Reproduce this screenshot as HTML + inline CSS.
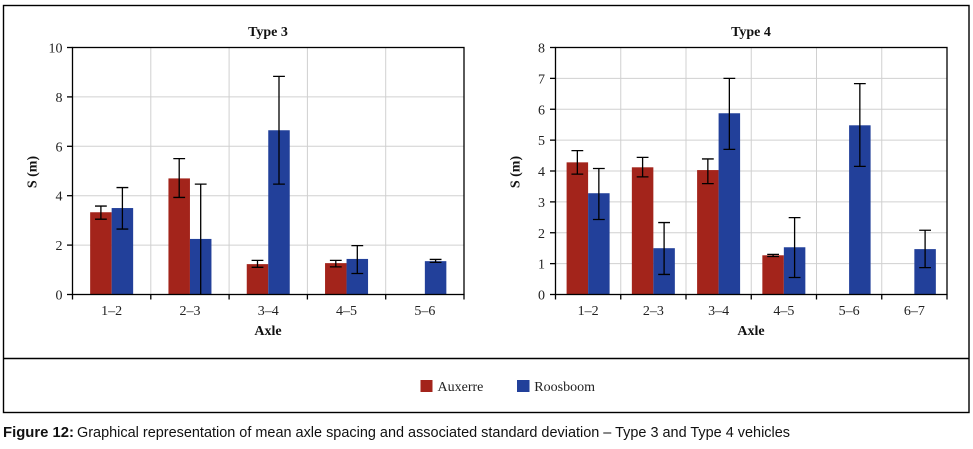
<!DOCTYPE html>
<html>
<head>
<meta charset="utf-8">
<style>
html,body{margin:0;padding:0;background:#fff;}
svg{display:block;}
.tk{font-family:"Liberation Serif",serif;font-size:14px;fill:#222;}
.bd{font-family:"Liberation Serif",serif;font-size:14px;font-weight:bold;fill:#111;}
.cap{font-family:"Liberation Sans",sans-serif;font-size:15px;fill:#111;}
</style>
</head>
<body>
<svg width="973" height="449" viewBox="0 0 973 449" xmlns="http://www.w3.org/2000/svg">
<rect x="0" y="0" width="973" height="449" fill="#fff"/>
<!-- outer box -->
<rect x="3.5" y="5.5" width="965.5" height="407" fill="none" stroke="#000" stroke-width="1.4"/>
<line x1="3.5" y1="358.5" x2="969" y2="358.5" stroke="#000" stroke-width="1.4"/>

<!-- ============ LEFT CHART ============ -->
<g stroke="#d0d0d0" stroke-width="1">
<line x1="72.5" y1="245.1" x2="464" y2="245.1"/>
<line x1="72.5" y1="195.7" x2="464" y2="195.7"/>
<line x1="72.5" y1="146.3" x2="464" y2="146.3"/>
<line x1="72.5" y1="96.9" x2="464" y2="96.9"/>
<line x1="150.8" y1="47.5" x2="150.8" y2="294.5"/>
<line x1="229.1" y1="47.5" x2="229.1" y2="294.5"/>
<line x1="307.4" y1="47.5" x2="307.4" y2="294.5"/>
<line x1="385.7" y1="47.5" x2="385.7" y2="294.5"/>
</g>
<g fill="#a3241b">
<rect x="90.15" y="212.25" width="21.5" height="82.25"/>
<rect x="168.45" y="178.41" width="21.5" height="116.09"/>
<rect x="246.75" y="264.12" width="21.5" height="30.38"/>
<rect x="325.05" y="263.13" width="21.5" height="31.37"/>
</g>
<g fill="#22409a">
<rect x="111.65" y="208.05" width="21.5" height="86.45"/>
<rect x="189.95" y="238.93" width="21.5" height="55.57"/>
<rect x="268.25" y="130.25" width="21.5" height="164.25"/>
<rect x="346.55" y="258.93" width="21.5" height="35.57"/>
<rect x="424.85" y="261.16" width="21.5" height="33.34"/>
</g>
<g stroke="#000" stroke-width="1.3" fill="none">
<path d="M100.9 219.17V206.07M95 219.17H106.8M95 206.07H106.8"/>
<path d="M122.4 229.05V187.55M116.5 229.05H128.3M116.5 187.55H128.3"/>
<path d="M179.2 197.43V158.65M173.3 197.43H185.1M173.3 158.65H185.1"/>
<path d="M200.7 294.5V184.09M194.8 184.09H206.6"/>
<path d="M257.5 267.33V260.41M251.6 267.33H263.4M251.6 260.41H263.4"/>
<path d="M279 184.09V76.4M273.1 184.09H284.9M273.1 76.4H284.9"/>
<path d="M335.8 266.84V260.41M329.9 266.84H341.7M329.9 260.41H341.7"/>
<path d="M357.3 273.5V245.59M351.4 273.5H363.2M351.4 245.59H363.2"/>
<path d="M435.6 262.39V259.43M429.7 262.39H441.5M429.7 259.43H441.5"/>
</g>
<rect x="72.5" y="47.5" width="391.5" height="247" fill="none" stroke="#000" stroke-width="1.3"/>
<g stroke="#000" stroke-width="1.3">
<line x1="67" y1="47.5" x2="72.5" y2="47.5"/>
<line x1="67" y1="96.9" x2="72.5" y2="96.9"/>
<line x1="67" y1="146.3" x2="72.5" y2="146.3"/>
<line x1="67" y1="195.7" x2="72.5" y2="195.7"/>
<line x1="67" y1="245.1" x2="72.5" y2="245.1"/>
<line x1="67" y1="294.5" x2="72.5" y2="294.5"/>
<line x1="72.5" y1="294.5" x2="72.5" y2="299.5"/>
<line x1="150.8" y1="294.5" x2="150.8" y2="299.5"/>
<line x1="229.1" y1="294.5" x2="229.1" y2="299.5"/>
<line x1="307.4" y1="294.5" x2="307.4" y2="299.5"/>
<line x1="385.7" y1="294.5" x2="385.7" y2="299.5"/>
<line x1="464" y1="294.5" x2="464" y2="299.5"/>
</g>
<g class="tk" text-anchor="end">
<text x="62.5" y="52.5">10</text>
<text x="62.5" y="101.9">8</text>
<text x="62.5" y="151.3">6</text>
<text x="62.5" y="200.7">4</text>
<text x="62.5" y="250.1">2</text>
<text x="62.5" y="299.5">0</text>
</g>
<g class="tk" text-anchor="middle">
<text x="111.65" y="315">1–2</text>
<text x="189.95" y="315">2–3</text>
<text x="268.25" y="315">3–4</text>
<text x="346.55" y="315">4–5</text>
<text x="424.85" y="315">5–6</text>
</g>
<text class="bd" x="268" y="36" text-anchor="middle">Type 3</text>
<text class="bd" x="268" y="335" text-anchor="middle">Axle</text>
<text class="bd" x="0" y="0" text-anchor="middle" transform="translate(36.5,172) rotate(-90)">S (m)</text>

<!-- ============ RIGHT CHART ============ -->
<g stroke="#d0d0d0" stroke-width="1">
<line x1="555.5" y1="263.63" x2="947" y2="263.63"/>
<line x1="555.5" y1="232.75" x2="947" y2="232.75"/>
<line x1="555.5" y1="201.88" x2="947" y2="201.88"/>
<line x1="555.5" y1="171" x2="947" y2="171"/>
<line x1="555.5" y1="140.13" x2="947" y2="140.13"/>
<line x1="555.5" y1="109.25" x2="947" y2="109.25"/>
<line x1="555.5" y1="78.38" x2="947" y2="78.38"/>
<line x1="620.75" y1="47.5" x2="620.75" y2="294.5"/>
<line x1="686" y1="47.5" x2="686" y2="294.5"/>
<line x1="751.25" y1="47.5" x2="751.25" y2="294.5"/>
<line x1="816.5" y1="47.5" x2="816.5" y2="294.5"/>
<line x1="881.75" y1="47.5" x2="881.75" y2="294.5"/>
</g>
<g fill="#a3241b">
<rect x="566.6" y="162.35" width="21.5" height="132.15"/>
<rect x="631.85" y="167.3" width="21.5" height="127.2"/>
<rect x="697.1" y="170.07" width="21.5" height="124.43"/>
<rect x="762.35" y="255.29" width="21.5" height="39.21"/>
</g>
<g fill="#22409a">
<rect x="588.1" y="193.23" width="21.5" height="101.27"/>
<rect x="653.35" y="248.19" width="21.5" height="46.31"/>
<rect x="718.6" y="113.26" width="21.5" height="181.24"/>
<rect x="783.85" y="247.26" width="21.5" height="47.24"/>
<rect x="849.1" y="125.3" width="21.5" height="169.2"/>
<rect x="914.35" y="249.11" width="21.5" height="45.39"/>
</g>
<g stroke="#000" stroke-width="1.3" fill="none">
<path d="M577.35 174.09V150.62M571.45 174.09H583.25M571.45 150.62H583.25"/>
<path d="M598.85 219.47V168.53M592.95 219.47H604.75M592.95 168.53H604.75"/>
<path d="M642.6 176.87V157.41M636.7 176.87H648.5M636.7 157.41H648.5"/>
<path d="M664.1 274.43V222.56M658.2 274.43H670M658.2 222.56H670"/>
<path d="M707.85 183.66V158.96M701.95 183.66H713.75M701.95 158.96H713.75"/>
<path d="M729.35 149.39V78.38M723.45 149.39H735.25M723.45 78.38H735.25"/>
<path d="M773.1 256.52V254.36M767.2 256.52H779M767.2 254.36H779"/>
<path d="M794.6 277.52V217.62M788.7 277.52H800.5M788.7 217.62H800.5"/>
<path d="M859.85 166.37V83.62M853.95 166.37H865.75M853.95 83.62H865.75"/>
<path d="M925.1 267.64V230.28M919.2 267.64H931M919.2 230.28H931"/>
</g>
<rect x="555.5" y="47.5" width="391.5" height="247" fill="none" stroke="#000" stroke-width="1.3"/>
<g stroke="#000" stroke-width="1.3">
<line x1="550" y1="47.5" x2="555.5" y2="47.5"/>
<line x1="550" y1="78.38" x2="555.5" y2="78.38"/>
<line x1="550" y1="109.25" x2="555.5" y2="109.25"/>
<line x1="550" y1="140.13" x2="555.5" y2="140.13"/>
<line x1="550" y1="171" x2="555.5" y2="171"/>
<line x1="550" y1="201.88" x2="555.5" y2="201.88"/>
<line x1="550" y1="232.75" x2="555.5" y2="232.75"/>
<line x1="550" y1="263.63" x2="555.5" y2="263.63"/>
<line x1="550" y1="294.5" x2="555.5" y2="294.5"/>
<line x1="555.5" y1="294.5" x2="555.5" y2="299.5"/>
<line x1="620.75" y1="294.5" x2="620.75" y2="299.5"/>
<line x1="686" y1="294.5" x2="686" y2="299.5"/>
<line x1="751.25" y1="294.5" x2="751.25" y2="299.5"/>
<line x1="816.5" y1="294.5" x2="816.5" y2="299.5"/>
<line x1="881.75" y1="294.5" x2="881.75" y2="299.5"/>
<line x1="947" y1="294.5" x2="947" y2="299.5"/>
</g>
<g class="tk" text-anchor="end">
<text x="545" y="52.5">8</text>
<text x="545" y="83.38">7</text>
<text x="545" y="114.25">6</text>
<text x="545" y="145.13">5</text>
<text x="545" y="176">4</text>
<text x="545" y="206.88">3</text>
<text x="545" y="237.75">2</text>
<text x="545" y="268.63">1</text>
<text x="545" y="299.5">0</text>
</g>
<g class="tk" text-anchor="middle">
<text x="588.1" y="315">1–2</text>
<text x="653.35" y="315">2–3</text>
<text x="718.6" y="315">3–4</text>
<text x="783.85" y="315">4–5</text>
<text x="849.1" y="315">5–6</text>
<text x="914.35" y="315">6–7</text>
</g>
<text class="bd" x="751" y="36" text-anchor="middle">Type 4</text>
<text class="bd" x="751" y="335" text-anchor="middle">Axle</text>
<text class="bd" x="0" y="0" text-anchor="middle" transform="translate(519.5,172) rotate(-90)">S (m)</text>

<!-- ============ LEGEND ============ -->
<rect x="420.5" y="380" width="12" height="12" fill="#a3241b"/>
<text class="tk" x="437.5" y="391">Auxerre</text>
<rect x="517" y="380" width="12.5" height="12" fill="#22409a"/>
<text class="tk" x="534.3" y="391">Roosboom</text>

<!-- ============ CAPTION ============ -->
<text class="cap" x="3" y="437" font-weight="bold" textLength="71" lengthAdjust="spacingAndGlyphs">Figure 12:</text>
<text class="cap" x="77" y="437" textLength="713" lengthAdjust="spacingAndGlyphs">Graphical representation of mean axle spacing and associated standard deviation – Type 3 and Type 4 vehicles</text>
</svg>
</body>
</html>
